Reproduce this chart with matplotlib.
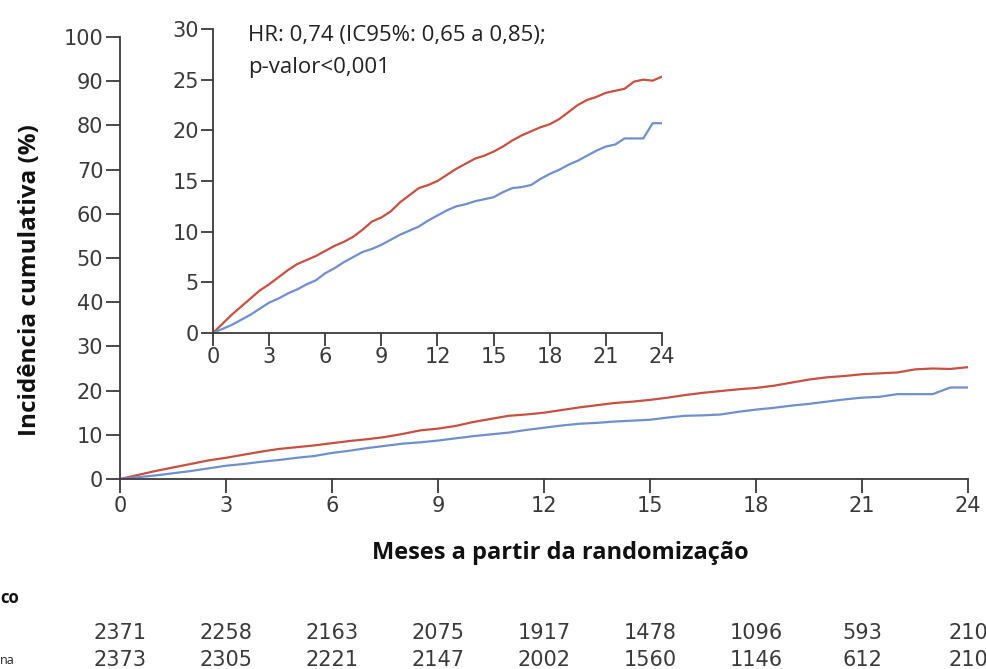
import matplotlib
matplotlib.use("Agg")
import matplotlib.pyplot as plt

# Months since randomization (0.5 month steps)
months = [i * 0.5 for i in range(49)]

placebo = [0, 0.9, 1.8, 2.6, 3.4, 4.2, 4.8, 5.5, 6.2, 6.8, 7.2, 7.6, 8.1,
           8.6, 9.0, 9.5, 10.2, 11.0, 11.4, 12.0, 12.9, 13.6, 14.3, 14.6,
           15.0, 15.6, 16.2, 16.7, 17.2, 17.5, 17.9, 18.4, 19.0, 19.5,
           19.9, 20.3, 20.6, 21.1, 21.8, 22.5, 23.0, 23.3, 23.7, 23.9,
           24.1, 24.8, 25.0, 24.9, 25.3]

dapa = [0, 0.4, 0.8, 1.3, 1.8, 2.4, 3.0, 3.4, 3.9, 4.3, 4.8, 5.2, 5.9,
        6.4, 7.0, 7.5, 8.0, 8.3, 8.7, 9.2, 9.7, 10.1, 10.5, 11.1, 11.6,
        12.1, 12.5, 12.7, 13.0, 13.2, 13.4, 13.9, 14.3, 14.4, 14.6, 15.2,
        15.7, 16.1, 16.6, 17.0, 17.5, 18.0, 18.4, 18.6, 19.2, 19.2, 19.2,
        20.7, 20.7]

risk_months = [0, 3, 6, 9, 12, 15, 18, 21, 24]
risk_placebo = [2371, 2258, 2163, 2075, 1917, 1478, 1096, 593, 210]
risk_dapa = [2373, 2305, 2221, 2147, 2002, 1560, 1146, 612, 210]

red = "#c9503f"
blue = "#6f90cc"
dark = "#3a3a3a"
tick_font = ["Liberation Sans Narrow", "DejaVu Sans"]
label_font = ["Open Sans", "DejaVu Sans"]

fig = plt.figure(figsize=(9.86, 6.69), dpi=100)

# Main axes
ax = fig.add_axes([0.1217, 0.2840, 0.86, 0.6607])
ax.plot(months, placebo, color=red, lw=1.6)
ax.plot(months, dapa, color=blue, lw=1.6)
ax.set_xlim(0, 24)
ax.set_ylim(0, 100)
ax.set_xticks(risk_months)
ax.set_yticks(range(0, 101, 10))
for s in ["top", "right"]:
    ax.spines[s].set_visible(False)
for s in ["left", "bottom"]:
    ax.spines[s].set_color(dark)
    ax.spines[s].set_linewidth(1.3)
ax.tick_params(direction="out", length=10, width=1.3, color=dark,
               labelcolor=dark, labelsize=15, pad=2)
for lab in ax.get_xticklabels() + ax.get_yticklabels():
    lab.set_family(tick_font)

fig.text(560 / 986, 1 - 553 / 669, "Meses a partir da randomização",
         fontsize=17, fontweight="bold", family=label_font,
         ha="center", va="center", color="#111111")
fig.text(30 / 986, 1 - 280 / 669, "Incidência cumulativa (%)",
         fontsize=17.5, fontweight="bold", family=label_font, rotation=90,
         ha="center", va="center", color="#111111")

# Inset
ins = fig.add_axes([0.2160, 0.5022, 0.4554, 0.4545])
ins.plot(months, placebo, color=red, lw=1.6)
ins.plot(months, dapa, color=blue, lw=1.6)
ins.set_xlim(0, 24)
ins.set_ylim(0, 30)
ins.set_xticks(risk_months)
ins.set_yticks(range(0, 31, 5))
ins.patch.set_alpha(0)
for s in ["top", "right"]:
    ins.spines[s].set_visible(False)
for s in ["left", "bottom"]:
    ins.spines[s].set_color(dark)
    ins.spines[s].set_linewidth(1.3)
ins.tick_params(direction="out", length=9, width=1.3, color=dark,
                labelcolor=dark, labelsize=15, pad=1)
for lab in ins.get_xticklabels() + ins.get_yticklabels():
    lab.set_family(tick_font)

# Hazard ratio annotation
fig.text(248 / 986, 1 - 35 / 669, "HR: 0,74 (IC95%: 0,65 a 0,85);",
         va="center", ha="left", fontsize=16, family=label_font,
         color="#222222")
fig.text(248 / 986, 1 - 68 / 669, "p-valor<0,001",
         va="center", ha="left", fontsize=16, family=label_font,
         color="#222222")

# Number at risk table (left labels cut off in the original)
fig.text(0.0, 1 - 598 / 669, "co", fontsize=12, fontweight="bold",
         family=label_font, va="center", ha="left", color="#111111")
fig.text(0.0, 1 - 660 / 669, "na", fontsize=9, family=label_font,
         va="center", ha="left", color="#222222")
for x, a, b in zip(risk_months, risk_placebo, risk_dapa):
    xf = ax.transData.transform((x, 0))[0] / fig.bbox.width
    fig.text(xf, 1 - 633 / 669, str(a), fontsize=15, family=tick_font,
             color=dark, ha="center", va="center")
    fig.text(xf, 1 - 660 / 669, str(b), fontsize=15, family=tick_font,
             color=dark, ha="center", va="center")

fig.savefig("out.png", dpi=100)
